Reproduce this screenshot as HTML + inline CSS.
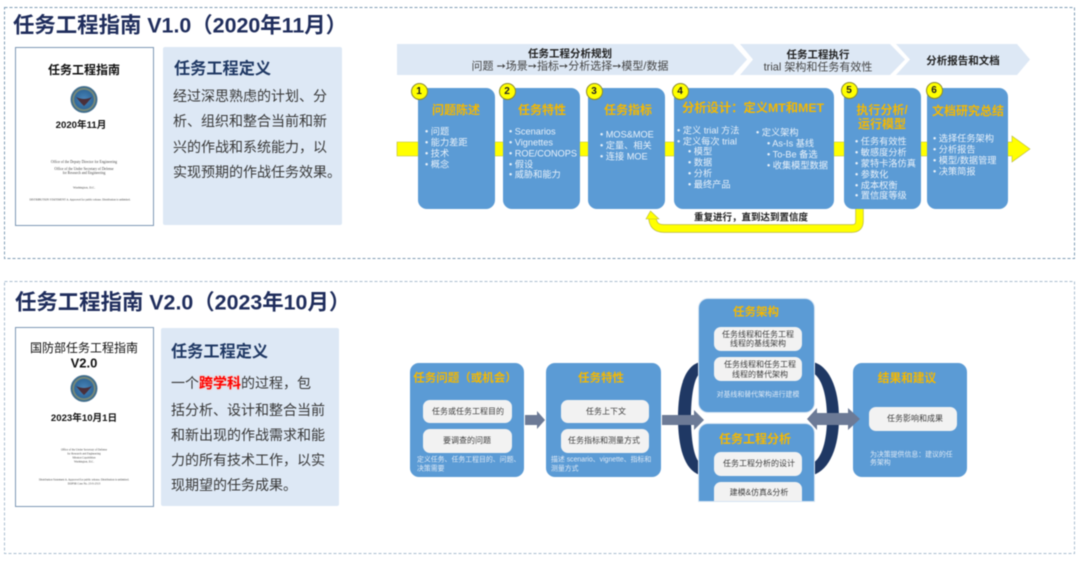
<!DOCTYPE html>
<html><head><meta charset="utf-8"><style>
html,body{margin:0;padding:0;background:#fff}
body{width:1080px;height:566px;position:relative;overflow:hidden;font-family:"Liberation Sans","Noto Sans CJK SC",sans-serif}
#p{position:absolute;left:0;top:0;width:1080px;height:566px;filter:blur(0.4px)}
.t{position:absolute;white-space:nowrap;line-height:1;transform:translateY(-50%)}
.c{transform:translate(-50%,-50%);text-align:center}
.b{font-weight:700}
.box{position:absolute;background:#5b9bd5;border-radius:9px}
.hl{box-shadow:0 0 0 1px #d5e4f3}
.w{position:absolute;background:#f2f2f2;border-radius:7px}
.gold{color:#f5b800;font-weight:700}
.lt{color:#e8f1fa;font-size:9.2px}
.dk{color:#404040;font-size:8px}
.sm{color:#dfeaf6;font-size:6.9px}
.num{position:absolute;width:17px;height:17px;border-radius:50%;background:#ffff00;border:1px solid #8a8a30;box-sizing:border-box;font-size:10px;font-weight:700;text-align:center;line-height:15px;color:#222}
.s{font-family:"Liberation Serif",serif;font-size:3.6px;color:#444}
.s2{font-family:"Liberation Serif",serif;font-size:2.8px;color:#444}
.book{position:absolute;background:#fff;border:1.5px solid #7f99b5;box-sizing:border-box}
.def{position:absolute;background:#dde8f5;border-radius:2px}
.body{color:#383838;font-size:14px}
h1{margin:0;font-size:21.4px;color:#1f2d5c}
</style></head><body><div id="p">

<svg width="1080" height="566" style="position:absolute;left:0;top:0">
<defs><radialGradient id="sg"><stop offset="0" stop-color="#4a86bb"/><stop offset="0.68" stop-color="#30689a"/><stop offset="0.8" stop-color="#8c9270"/><stop offset="0.9" stop-color="#34688f"/><stop offset="1" stop-color="#5a7d95"/></radialGradient></defs>
<rect x="4.5" y="7.5" width="1070" height="251" fill="none" stroke="#7f9db5" stroke-width="1" stroke-dasharray="3 2"/>
<rect x="4.5" y="281.5" width="1070" height="272" fill="none" stroke="#a9bdd0" stroke-width="1" stroke-dasharray="3 2"/>
<polygon points="397,44 733,44 747,59.5 733,75 397,75" fill="#dde8f5"/>
<polygon points="740,44 890,44 905,59.5 890,75 740,75 753,59.5" fill="#dde8f5"/>
<polygon points="896,44 1017,44 1030,59.5 1017,75 896,75 910,59.5" fill="#dde8f5"/>
<polygon points="397,142 1012,142 1012,136 1030,149 1012,162 1012,156 397,156" fill="#ffff00" stroke="#b8b840" stroke-width="0.6"/>
<path d="M859.5,206 V221 Q859.5,228.5 852,228.5 H664 Q652.5,228.5 652.5,217" fill="none" stroke="#b8b840" stroke-width="8.4"/>
<path d="M859.5,206 V221 Q859.5,228.5 852,228.5 H664 Q652.5,228.5 652.5,217" fill="none" stroke="#ffff00" stroke-width="7"/>
<polygon points="650.5,211 659,219 646,219" fill="#ffff00" stroke="#b8b840" stroke-width="0.6"/>
<path d="M700,362 C684,366 678,390 678,418 C678,446 684,470 700,475 L700,463 C694,458 691,440 691,418 C691,396 694,378 700,373 Z" fill="#1f3864"/>
<path d="M813,362 C830,366 839,390 839,418 C839,446 830,470 813,475 L813,463 C822,458 827,440 827,418 C827,396 822,378 813,373 Z" fill="#1f3864"/>
<circle cx="84" cy="99.5" r="13.5" fill="url(#sg)"/>
<path d="M76,97 Q84,101 92,97 L87,103 L84,106 L81,103 Z" fill="#4a2f3a"/>
<circle cx="84" cy="388.5" r="13.5" fill="url(#sg)"/>
<path d="M76,386 Q84,390 92,386 L87,392 L84,395 L81,392 Z" fill="#4a2f3a"/>
</svg>

<h1 class="t" style="left:13px;top:26px">任务工程指南 V1.0（2020年11月）</h1>
<div class="book" style="left:15px;top:47px;width:139px;height:179px"></div>
<svg width="1080" height="566" style="position:absolute;left:0;top:0"><circle cx="84" cy="99.5" r="13.5" fill="url(#sg)"/><path d="M76,97 Q84,101 92,97 L87,103 L84,106 L81,103 Z" fill="#4a2f3a"/><circle cx="84" cy="388.5" r="13.5" fill="none"/></svg>
<div class="t c b" style="left:84px;top:70px;font-size:12px;color:#111">任务工程指南</div>
<div class="t c b" style="left:81px;top:126px;font-size:9.6px;color:#111">2020年11月</div>
<div class="t c s" style="left:84px;top:163px">Office of the Deputy Director for Engineering</div>
<div class="t c s" style="left:84px;top:170px">Office of the Under Secretary of Defense</div>
<div class="t c s" style="left:84px;top:174px">for Research and Engineering</div>
<div class="t c s" style="left:84px;top:188px;font-size:3.1px">Washington, D.C.</div>
<div class="t c s2" style="left:80px;top:201px">DISTRIBUTION STATEMENT A. Approved for public release. Distribution is unlimited.</div>
<div class="def" style="left:163px;top:47px;width:179px;height:178px"></div>
<div class="t b" style="left:174px;top:69px;font-size:16.2px;color:#1f3864">任务工程定义</div>
<div class="t body" style="left:173px;top:96px">经过深思熟虑的计划、分</div>
<div class="t body" style="left:173px;top:121px">析、组织和整合当前和新</div>
<div class="t body" style="left:173px;top:147px">兴的作战和系统能力，以</div>
<div class="t body" style="left:173px;top:172px">实现预期的作战任务效果。</div>

<div class="t c b" style="left:570px;top:54px;font-size:10.5px;color:#222">任务工程分析规划</div>
<div class="t c" style="left:570px;top:67px;font-size:11px;color:#444">问题 ➙场景➙指标➙分析选择➙模型/数据</div>
<div class="t c b" style="left:818px;top:55px;font-size:10.5px;color:#222">任务工程执行</div>
<div class="t c" style="left:818px;top:68px;font-size:11px;color:#444">trial 架构和任务有效性</div>
<div class="t c b" style="left:963px;top:61px;font-size:10.5px;color:#222">分析报告和文档</div>

<div class="box" style="left:418px;top:88px;width:77px;height:121px"></div>
<div class="box" style="left:503px;top:88px;width:77px;height:121px"></div>
<div class="box" style="left:588px;top:88px;width:77px;height:121px"></div>
<div class="box" style="left:674px;top:88px;width:160px;height:121px"></div>
<div class="box" style="left:844px;top:88px;width:77px;height:121px"></div>
<div class="box" style="left:927px;top:88px;width:81px;height:121px"></div>

<div class="num" style="left:410.5px;top:82.5px">1</div>
<div class="num" style="left:498.5px;top:82.5px">2</div>
<div class="num" style="left:585.5px;top:82.5px">3</div>
<div class="num" style="left:671.5px;top:82.5px">4</div>
<div class="num" style="left:840.5px;top:81.5px">5</div>
<div class="num" style="left:925.5px;top:81.5px">6</div>

<div class="t c gold" style="left:456px;top:110px;font-size:12px">问题陈述</div>
<div class="t c gold" style="left:542px;top:110px;font-size:12px">任务特性</div>
<div class="t c gold" style="left:628px;top:110px;font-size:12px">任务指标</div>
<div class="t c gold" style="left:753px;top:108px;font-size:12.3px">分析设计：定义MT和MET</div>
<div class="t c gold" style="left:882px;top:110px;font-size:12px">执行分析/</div>
<div class="t c gold" style="left:882px;top:124px;font-size:12px">运行模型</div>
<div class="t c gold" style="left:968px;top:111px;font-size:12px">文档研究总结</div>

<div class="t lt" style="left:425px;top:132px">• 问题</div>
<div class="t lt" style="left:425px;top:143px">• 能力差距</div>
<div class="t lt" style="left:425px;top:154px">• 技术</div>
<div class="t lt" style="left:425px;top:165px">• 概念</div>

<div class="t lt" style="left:509px;top:132px">• Scenarios</div>
<div class="t lt" style="left:509px;top:143px">• Vignettes</div>
<div class="t lt" style="left:509px;top:154px">• ROE/CONOPS</div>
<div class="t lt" style="left:509px;top:165px">• 假设</div>
<div class="t lt" style="left:509px;top:175px">• 威胁和能力</div>

<div class="t lt" style="left:600px;top:135px">• MOS&amp;MOE</div>
<div class="t lt" style="left:600px;top:146px">• 定量、相关</div>
<div class="t lt" style="left:600px;top:157px">• 连接 MOE</div>

<div class="t lt" style="left:677px;top:131px">• 定义 trial 方法</div>
<div class="t lt" style="left:677px;top:142px">• 定义每次 trial</div>
<div class="t lt" style="left:688px;top:152px">• 模型</div>
<div class="t lt" style="left:688px;top:163px">• 数据</div>
<div class="t lt" style="left:688px;top:174px">• 分析</div>
<div class="t lt" style="left:688px;top:185px">• 最终产品</div>
<div class="t lt" style="left:756px;top:133px">• 定义架构</div>
<div class="t lt" style="left:767px;top:144px">• As-Is 基线</div>
<div class="t lt" style="left:767px;top:155px">• To-Be 备选</div>
<div class="t lt" style="left:767px;top:166px">• 收集模型数据</div>

<div class="t lt" style="left:855px;top:142px">• 任务有效性</div>
<div class="t lt" style="left:855px;top:153px">• 敏感度分析</div>
<div class="t lt" style="left:855px;top:164px">• 蒙特卡洛仿真</div>
<div class="t lt" style="left:855px;top:175px">• 参数化</div>
<div class="t lt" style="left:855px;top:186px">• 成本权衡</div>
<div class="t lt" style="left:855px;top:196px">• 置信度等级</div>

<div class="t lt" style="left:933px;top:139px">• 选择任务架构</div>
<div class="t lt" style="left:933px;top:150px">• 分析报告</div>
<div class="t lt" style="left:933px;top:161px">• 模型/数据管理</div>
<div class="t lt" style="left:933px;top:172px">• 决策简报</div>

<div class="t c b" style="left:751px;top:218px;font-size:9.5px;color:#222">重复进行，直到达到置信度</div>

<h1 class="t" style="left:15px;top:303px">任务工程指南 V2.0（2023年10月）</h1>
<div class="book" style="left:15px;top:327px;width:139px;height:180px"></div>
<svg width="1080" height="566" style="position:absolute;left:0;top:0"><circle cx="84" cy="388.5" r="13.5" fill="url(#sg)"/><path d="M76,386 Q84,390 92,386 L87,392 L84,395 L81,392 Z" fill="#4a2f3a"/></svg>
<div class="t c" style="left:84px;top:348px;font-size:12px;color:#111">国防部任务工程指南</div>
<div class="t c b" style="left:84px;top:363px;font-size:13px;color:#111">V2.0</div>
<div class="t c b" style="left:84px;top:419px;font-size:9.6px;color:#111">2023年10月1日</div>
<div class="t c s2" style="left:84px;top:451px">Office of the Under Secretary of Defense</div>
<div class="t c s2" style="left:84px;top:455px">for Research and Engineering</div>
<div class="t c s2" style="left:84px;top:459px">Mission Capabilities</div>
<div class="t c s2" style="left:84px;top:463px">Washington, D.C.</div>
<div class="t c s2" style="left:84px;top:481px">Distribution Statement A. Approved for public release. Distribution is unlimited.</div>
<div class="t c s2" style="left:84px;top:485px">DOPSR Case No. 23-S-2313</div>
<div class="def" style="left:161px;top:328px;width:178px;height:178px"></div>
<div class="t b" style="left:171px;top:352px;font-size:16.2px;color:#1f3864">任务工程定义</div>
<div class="t body" style="left:171px;top:383px">一个<span style="color:#f00;font-weight:700;text-shadow:0 0 2px #ffb8a0">跨学科</span>的过程，包</div>
<div class="t body" style="left:171px;top:410px">括分析、设计和整合当前</div>
<div class="t body" style="left:171px;top:435px">和新出现的作战需求和能</div>
<div class="t body" style="left:171px;top:460px">力的所有技术工作，以实</div>
<div class="t body" style="left:171px;top:485px">现期望的任务成果。</div>

<div class="box" style="left:410px;top:363px;width:114px;height:114px"></div>
<div class="box" style="left:546px;top:363px;width:115px;height:114px"></div>
<div class="box hl" style="left:699px;top:299px;width:115px;height:113px"></div>
<div class="box hl" style="left:699px;top:424px;width:115px;height:77px;border-radius:9px 9px 0 0"></div>
<div class="box" style="left:853px;top:363px;width:114px;height:114px"></div>

<svg width="1080" height="566" style="position:absolute;left:0;top:0">
<polygon points="525,415 537,415 537,411 545,420 537,429 537,425 525,425" fill="#6c7a96"/>
<polygon points="662,415 694,415 694,410 704,420 694,430 694,425 662,425" fill="#6c7a96"/>
<polygon points="807,419 817,408 817,413 848,413 848,408 860,419 848,430 848,425 817,425 817,430" fill="#6c7a96"/>
</svg>

<div class="w" style="left:423px;top:400px;width:89px;height:23px"></div>
<div class="w" style="left:423px;top:429px;width:89px;height:24px"></div>
<div class="w" style="left:561px;top:400px;width:88px;height:23px"></div>
<div class="w" style="left:561px;top:429px;width:88px;height:24px"></div>
<div class="w" style="left:714px;top:327px;width:88px;height:24px"></div>
<div class="w" style="left:714px;top:357px;width:88px;height:24px"></div>
<div class="w" style="left:714px;top:452px;width:88px;height:24px"></div>
<div class="w" style="left:714px;top:482px;width:88px;height:19px;border-radius:7px 7px 0 0"></div>
<div class="w" style="left:869px;top:407px;width:88px;height:24px"></div>

<div class="t c gold" style="left:465px;top:379px;font-size:11.5px">任务问题（或机会）</div>
<div class="t c gold" style="left:601px;top:379px;font-size:11.5px">任务特性</div>
<div class="t c gold" style="left:756px;top:313px;font-size:11.5px">任务架构</div>
<div class="t c gold" style="left:755px;top:439px;font-size:12px">任务工程分析</div>
<div class="t c gold" style="left:907px;top:379px;font-size:11.7px">结果和建议</div>

<div class="t c dk" style="left:468px;top:412px">任务或任务工程目的</div>
<div class="t c dk" style="left:467px;top:441px">要调查的问题</div>
<div class="t c dk" style="left:606px;top:412px">任务上下文</div>
<div class="t c dk" style="left:604px;top:441px">任务指标和测量方式</div>
<div class="t c dk" style="left:758px;top:335px">任务线程和任务工程</div>
<div class="t c dk" style="left:758px;top:344px">线程的基线架构</div>
<div class="t c dk" style="left:760px;top:365px">任务线程和任务工程</div>
<div class="t c dk" style="left:760px;top:375px">线程的替代架构</div>
<div class="t c dk" style="left:759px;top:464px">任务工程分析的设计</div>
<div class="t c dk" style="left:759px;top:493px">建模&amp;仿真&amp;分析</div>
<div class="t c dk" style="left:915px;top:419px">任务影响和成果</div>

<div class="t sm" style="left:417px;top:461px">定义任务、任务工程目的、问题、</div>
<div class="t sm" style="left:417px;top:470px">决策需要</div>
<div class="t sm" style="left:551px;top:461px">描述 scenario、vignette、指标和</div>
<div class="t sm" style="left:551px;top:470px">测量方式</div>
<div class="t c sm" style="left:758px;top:396px">对基线和替代架构进行建模</div>
<div class="t sm" style="left:870px;top:456px">为决策提供信息：建议的任</div>
<div class="t sm" style="left:870px;top:464px">务架构</div>
</div></body></html>
